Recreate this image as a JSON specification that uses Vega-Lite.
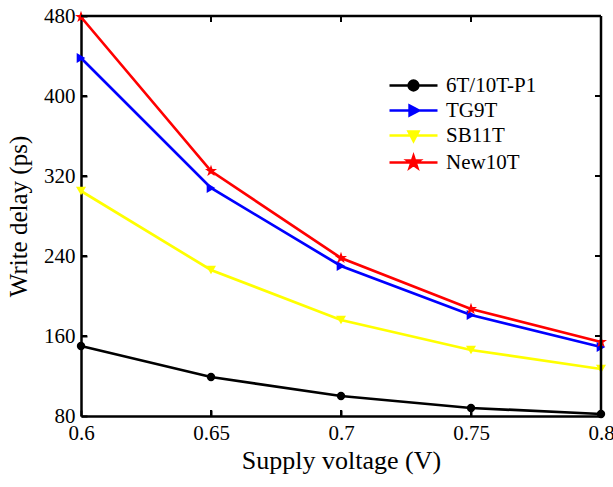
{
  "$schema": "https://vega.github.io/schema/vega-lite/v6.json",
  "width": 520,
  "height": 400,
  "autosize": "none",
  "padding": {"left": 81, "top": 16, "right": 12, "bottom": 71},
  "background": "white",
  "config": {
    "view": {"stroke": null},
    "font": "Liberation Serif",
    "axis": {
      "domainColor": "black",
      "domainWidth": 2.5,
      "tickColor": "black",
      "tickWidth": 2,
      "tickSize": -6,
      "grid": false,
      "labelFont": "Liberation Serif",
      "labelFontSize": 21,
      "labelColor": "black",
      "titleFont": "Liberation Serif",
      "titleFontSize": 25,
      "titleFontWeight": "normal",
      "titleColor": "black"
    },
    "legend": {"labelFont": "Liberation Serif", "labelFontSize": 21, "labelColor": "black"}
  },
  "datasets": {
    "series": [
      {"v": 0.6, "d": 150, "s": "6T/10T-P1"},
      {"v": 0.65, "d": 119, "s": "6T/10T-P1"},
      {"v": 0.7, "d": 100, "s": "6T/10T-P1"},
      {"v": 0.75, "d": 88, "s": "6T/10T-P1"},
      {"v": 0.8, "d": 82, "s": "6T/10T-P1"},
      {"v": 0.6, "d": 438, "s": "TG9T"},
      {"v": 0.65, "d": 308, "s": "TG9T"},
      {"v": 0.7, "d": 230, "s": "TG9T"},
      {"v": 0.75, "d": 181, "s": "TG9T"},
      {"v": 0.8, "d": 149, "s": "TG9T"},
      {"v": 0.6, "d": 305, "s": "SB11T"},
      {"v": 0.65, "d": 226, "s": "SB11T"},
      {"v": 0.7, "d": 176, "s": "SB11T"},
      {"v": 0.75, "d": 146, "s": "SB11T"},
      {"v": 0.8, "d": 127, "s": "SB11T"},
      {"v": 0.6, "d": 479, "s": "New10T"},
      {"v": 0.65, "d": 325, "s": "New10T"},
      {"v": 0.7, "d": 238, "s": "New10T"},
      {"v": 0.75, "d": 187, "s": "New10T"},
      {"v": 0.8, "d": 154, "s": "New10T"}
    ],
    "edges": [{"top": 480, "right": 0.8}],
    "xticks": [
      {"t": 0.65, "a": 80, "b": 86}, {"t": 0.7, "a": 80, "b": 86}, {"t": 0.75, "a": 80, "b": 86},
      {"t": 0.65, "a": 480, "b": 474}, {"t": 0.7, "a": 480, "b": 474}, {"t": 0.75, "a": 480, "b": 474}
    ],
    "yticks": [
      {"t": 160, "a": 0.6, "b": 0.6023}, {"t": 240, "a": 0.6, "b": 0.6023}, {"t": 320, "a": 0.6, "b": 0.6023}, {"t": 400, "a": 0.6, "b": 0.6023},
      {"t": 160, "a": 0.8, "b": 0.7977}, {"t": 240, "a": 0.8, "b": 0.7977}, {"t": 320, "a": 0.8, "b": 0.7977}, {"t": 400, "a": 0.8, "b": 0.7977}
    ]
  },
  "data": {"name": "series"},
  "layer": [
    {
      "mark": {"type": "line", "strokeWidth": 2.7},
      "encoding": {
        "x": {
          "field": "v", "type": "quantitative",
          "scale": {"domain": [0.6, 0.8], "nice": false, "zero": false},
          "axis": {"values": [0.6, 0.65, 0.7, 0.75, 0.8], "labelExpr": "datum.value + ''", "title": "Supply voltage (V)", "labelPadding": 12, "titlePadding": 4, "labelFlush": false, "titleFontSize": 26}
        },
        "y": {
          "field": "d", "type": "quantitative",
          "scale": {"domain": [80, 480], "nice": false, "zero": false},
          "axis": {"values": [80, 160, 240, 320, 400, 480], "title": "Write delay (ps)", "labelPadding": 12, "titleX": -63, "titleY": 200, "titleAlign": "center", "titleBaseline": "middle", "titleAngle": -90}
        },
        "color": {
          "field": "s", "type": "nominal",
          "scale": {"domain": ["6T/10T-P1", "TG9T", "SB11T", "New10T"], "range": ["#000000", "#0000ff", "#ffff00", "#ff0000"]},
          "legend": {
            "title": null,
            "orient": "none",
            "legendX": 322,
            "legendY": 59,
            "symbolSize": 100,
            "symbolStrokeWidth": 2.7,
            "labelOffset": 22,
            "rowPadding": 3,
            "encode": {
              "symbols": {
                "update": {
                  "shape": {"signal": "datum.value === '6T/10T-P1' ? 'M-4.8,0H4.8M-0.96,0A0.96,0.96 0 1,0 0.96,0A0.96,0.96 0 1,0 -0.96,0Z' : datum.value === 'TG9T' ? 'M-4.8,0H4.8M-0.77,-0.96L1.06,0L-0.77,0.96Z' : datum.value === 'SB11T' ? 'M-4.8,0H4.8M-0.96,-0.77L0.96,-0.77L0,1.06Z' : 'M-4.8,0H4.8M0,-1.25L0.281,-0.386L1.189,-0.386L0.454,0.148L0.735,1.011L0,0.478L-0.735,1.011L-0.454,0.148L-1.189,-0.386L-0.281,-0.386Z'"},
                  "fill": {"signal": "scale('color', datum.value)"},
                  "stroke": {"signal": "scale('color', datum.value)"},
                  "strokeWidth": {"value": 2.7}
                }
              }
            }
          }
        }
      }
    },
    {
      "transform": [{"filter": "datum.s === '6T/10T-P1'"}],
      "mark": {"type": "point", "filled": true, "opacity": 1, "shape": "circle", "size": 70, "color": "#000000"},
      "encoding": {
        "x": {"field": "v", "type": "quantitative"},
        "y": {"field": "d", "type": "quantitative"}
      }
    },
    {
      "transform": [{"filter": "datum.s === 'TG9T'"}],
      "mark": {"type": "point", "filled": true, "opacity": 1, "shape": "triangle-right", "size": 100, "color": "#0000ff"},
      "encoding": {
        "x": {"field": "v", "type": "quantitative"},
        "y": {"field": "d", "type": "quantitative"}
      }
    },
    {
      "transform": [{"filter": "datum.s === 'SB11T'"}],
      "mark": {"type": "point", "filled": true, "opacity": 1, "shape": "triangle-down", "size": 100, "color": "#ffff00"},
      "encoding": {
        "x": {"field": "v", "type": "quantitative"},
        "y": {"field": "d", "type": "quantitative"}
      }
    },
    {
      "transform": [{"filter": "datum.s === 'New10T'"}],
      "mark": {"type": "point", "filled": true, "opacity": 1, "shape": "M0,-1L0.225,-0.309L0.951,-0.309L0.363,0.118L0.588,0.809L0,0.382L-0.588,0.809L-0.363,0.118L-0.951,-0.309L-0.225,-0.309Z", "size": 160, "color": "#ff0000"},
      "encoding": {
        "x": {"field": "v", "type": "quantitative"},
        "y": {"field": "d", "type": "quantitative"}
      }
    },
    {
      "data": {"name": "edges"},
      "mark": {"type": "rule", "color": "black", "strokeWidth": 2.5},
      "encoding": {"y": {"field": "top", "type": "quantitative"}}
    },
    {
      "data": {"name": "edges"},
      "mark": {"type": "rule", "color": "black", "strokeWidth": 2.5},
      "encoding": {"x": {"field": "right", "type": "quantitative"}}
    },
    {
      "data": {"name": "xticks"},
      "mark": {"type": "rule", "color": "black", "strokeWidth": 2},
      "encoding": {
        "x": {"field": "t", "type": "quantitative"},
        "y": {"field": "a", "type": "quantitative"},
        "y2": {"field": "b"}
      }
    },
    {
      "data": {"name": "yticks"},
      "mark": {"type": "rule", "color": "black", "strokeWidth": 2},
      "encoding": {
        "y": {"field": "t", "type": "quantitative"},
        "x": {"field": "a", "type": "quantitative"},
        "x2": {"field": "b"}
      }
    }
  ]
}
